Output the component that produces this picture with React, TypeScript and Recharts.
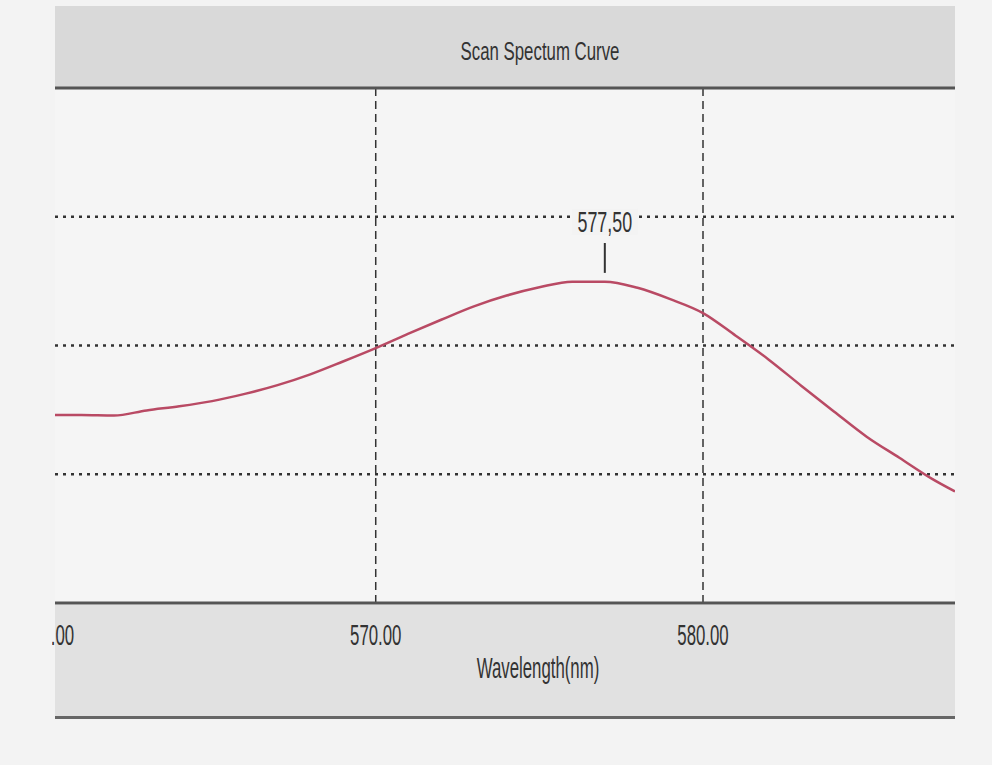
import React from 'react';
import { LineChart, Line, XAxis, YAxis, CartesianGrid, ReferenceLine, ReferenceDot } from 'recharts';

const chartTitle = 'Scan Spectum Curve';
const xAxisTitle = 'Wavelength(nm)';
const wavelengths = [560.2, 561, 562, 563, 564, 565, 566, 567, 568, 569, 570, 571, 572, 573, 574, 575, 576, 577, 578, 579, 580, 581, 582, 583, 584, 585, 586, 587, 587.7];
const absorbance = [0.365, 0.365, 0.364, 0.374, 0.382, 0.392, 0.406, 0.423, 0.444, 0.469, 0.495, 0.523, 0.550, 0.576, 0.597, 0.613, 0.624, 0.624, 0.612, 0.590, 0.563, 0.519, 0.473, 0.422, 0.372, 0.323, 0.282, 0.241, 0.2165];
const xTicks = [560, 570, 580];
const xGridValues = [570, 580];
const yGridTicks = [0.25, 0.5, 0.75];
const xDomain = [560.2, 587.7];
const yDomain = [0, 1];
const peakWavelength = 577.0;
const peakLabel = '577,50';
const peakMarker = [0.641, 0.699];
const peakLabelLevel = 0.74;

const data = wavelengths.map((w, i) => ({ w, a: absorbance[i] }));

const FONT = "'Liberation Sans', Arial, sans-serif";
const BG = '#f3f3f3';

const XTick = (props: any) => {
  const { x, y, payload } = props;
  return (
    <g transform={`translate(${x},${y + 42}) scale(0.82,1.45)`}>
      <text x={0} y={0} textAnchor="middle" fontFamily={FONT} fontSize={20.5} fill="#333">
        {Number(payload.value).toFixed(2)}
      </text>
    </g>
  );
};

const AxisTitle = (props: any) => {
  const vb = props.viewBox || {};
  const cx = vb.x + vb.width / 2 + 33;
  const cy = vb.y + 75;
  return (
    <g transform={`translate(${cx},${cy}) scale(0.82,1.45)`}>
      <text x={0} y={0} textAnchor="middle" fontFamily={FONT} fontSize={20.5} fill="#333">
        {xAxisTitle}
      </text>
    </g>
  );
};

const PeakLabel = (props: any) => {
  const { cx, cy } = props;
  return (
    <g>
      <rect x={cx - 33} y={cy - 13} width={66} height={26} fill={BG} />
      <g transform={`translate(${cx},${cy + 10}) scale(0.85,1.4)`}>
        <text x={0} y={0} textAnchor="middle" fontFamily={FONT} fontSize={21} fill="#333">
          {peakLabel}
        </text>
      </g>
    </g>
  );
};

export default function App() {
  return (
    <div style={{ position: 'absolute', left: 0, top: 0, width: 992, height: 765, background: BG, overflow: 'hidden' }}>
      <div style={{ position: 'absolute', left: 55, top: 6, width: 900, height: 81, background: '#d9d9d9' }} />
      <div
        style={{
          position: 'absolute',
          left: 340,
          top: 38,
          width: 400,
          textAlign: 'center',
          fontFamily: FONT,
          fontSize: 20.5,
          lineHeight: '26px',
          color: '#333',
          transform: 'scale(0.82,1.22)',
        }}
      >
        {chartTitle}
      </div>
      <div style={{ position: 'absolute', left: 55, top: 605, width: 900, height: 112, background: '#e1e1e1' }} />
      <div style={{ position: 'absolute', left: 55, top: 716, width: 900, height: 3, background: '#666' }} />
      <div style={{ position: 'absolute', left: 52, top: 86 }}>
        <LineChart width={903} height={634} data={data} margin={{ top: 2, right: 0, left: 3, bottom: 0 }}>
          <CartesianGrid
            fill="#f5f5f5"
            horizontal={false}
            vertical={true}
            verticalValues={xGridValues}
            stroke="#333"
            strokeWidth={1.5}
            strokeDasharray="8 5"
          />
          <CartesianGrid
            horizontal={true}
            vertical={false}
            horizontalValues={yGridTicks}
            stroke="#333"
            strokeWidth={2.5}
            strokeDasharray="3 5"
          />
          <XAxis
            dataKey="w"
            type="number"
            domain={xDomain}
            allowDataOverflow
            ticks={xTicks}
            interval={0}
            height={117}
            tickSize={0}
            tickMargin={0}
            tickLine={false}
            axisLine={{ stroke: '#555', strokeWidth: 3 }}
            tick={<XTick />}
            label={<AxisTitle />}
          />
          <YAxis hide type="number" domain={yDomain} ticks={yGridTicks} />
          <ReferenceLine y={yDomain[1]} stroke="#555" strokeWidth={3} />
          <Line
            type="monotone"
            dataKey="a"
            stroke="#b94a64"
            strokeWidth={2.5}
            dot={false}
            isAnimationActive={false}
          />
          <ReferenceLine
            segment={[{ x: peakWavelength, y: peakMarker[0] }, { x: peakWavelength, y: peakMarker[1] }]}
            stroke="#333"
            strokeWidth={2}
          />
          <ReferenceDot x={peakWavelength} y={peakLabelLevel} r={0} shape={<PeakLabel />} />
        </LineChart>
      </div>
    </div>
  );
}
